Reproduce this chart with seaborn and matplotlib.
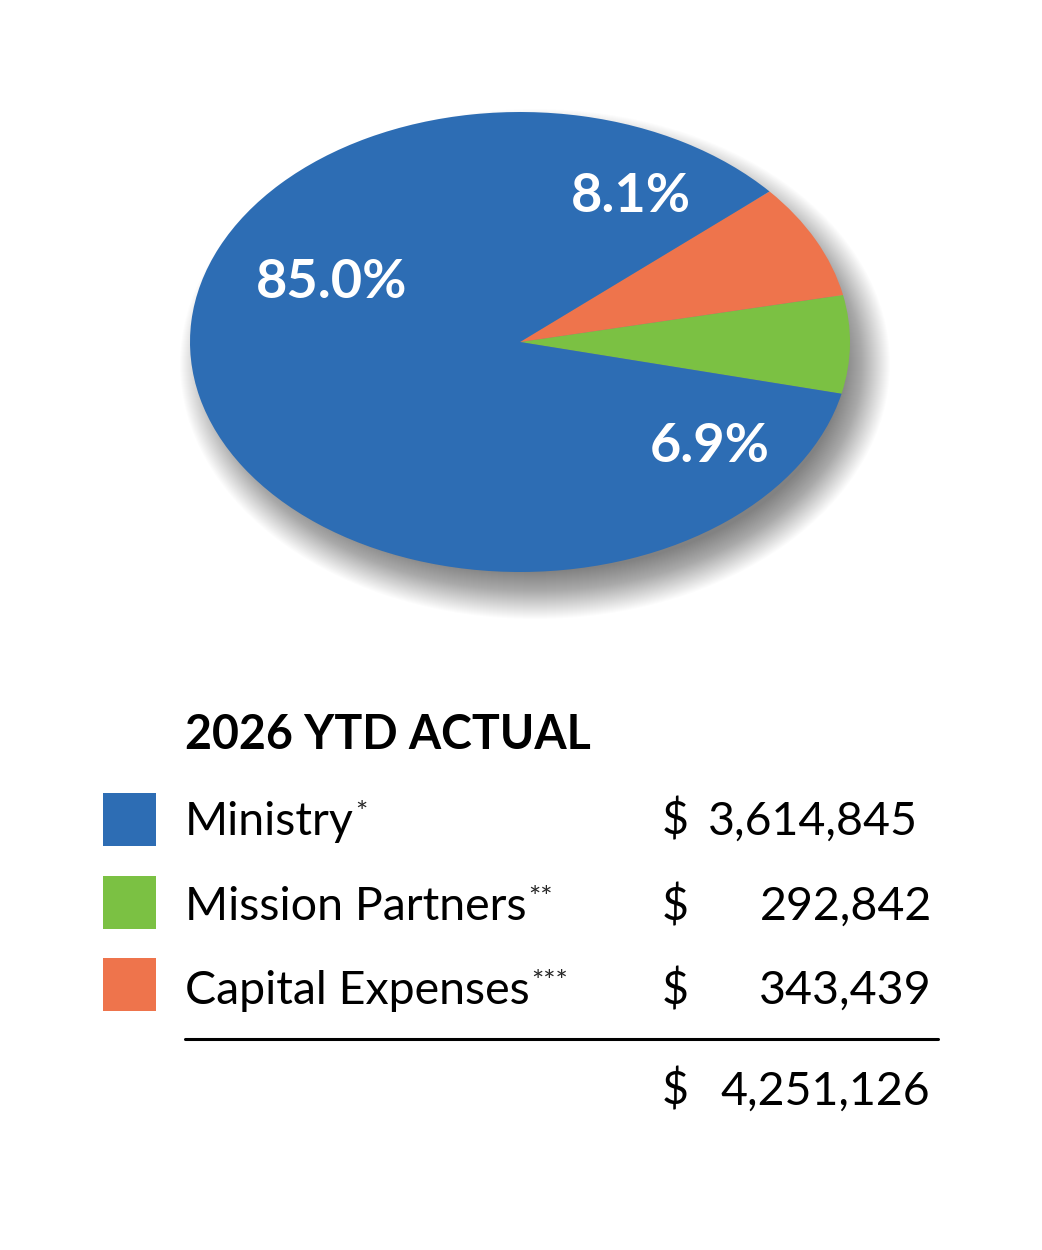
import numpy as np
import seaborn as sns
import matplotlib.pyplot as plt
from matplotlib.patches import Ellipse, Rectangle

## data ----------------------------------------------------------------------------------

categories = ['Mission Partners', 'Capital Expenses', 'Ministry']
values = [292842, 343439, 3614845]
colors = ['#7BC143', '#EE744C', '#2D6DB4']

table_order = ['Ministry', 'Mission Partners', 'Capital Expenses']
table_marks = ['*', '**', '***']
table_title = '2026 YTD ACTUAL'

## style ---------------------------------------------------------------------------------

sns.set_theme(style='white')
plt.rcParams['font.family'] = ['Lato', 'DejaVu Sans']

fig = plt.figure(figsize=(10.42, 12.5), dpi=100)

# pie axes covering the ellipse bounds
W, H = 1042, 1250
x0, x1, y0, y1 = 190, 850, 112, 572
rx, ry = (x1 - x0) / 2, (y1 - y0) / 2
ax = fig.add_axes([x0 / W, 1 - y1 / H, (x1 - x0) / W, (y1 - y0) / H])

# soft drop shadow: stack of faint ellipses, offset down-right
for d in range(-22, 26):
    ax.add_patch(Ellipse((15 / rx, -22 / ry), 2 + 2 * d / rx, 2 + 2 * d / ry,
                         facecolor='#000000', alpha=0.011, lw=0,
                         clip_on=False, zorder=0))

wedges, _ = ax.pie(values, colors=colors, startangle=-13.0, counterclock=True,
                   radius=1, wedgeprops=dict(linewidth=0))
for w in wedges:
    w.set_zorder(2)
ax.set_aspect('auto')
ax.set_xlim(-1, 1)
ax.set_ylim(-1, 1)
ax.axis('off')

# overlay in pixel coordinates for labels and the table
ov = fig.add_axes([0, 0, 1, 1], zorder=5)
ov.patch.set_alpha(0)
ov.set_xlim(0, 1042)
ov.set_ylim(1250, 0)
ov.axis('off')

# percentage labels
total = sum(values)
pct = {c: v / total * 100 for c, v in zip(categories, values)}
label_pos = {'Ministry': (332, 283), 'Capital Expenses': (631, 196), 'Mission Partners': (710, 446)}
for c, (px, py) in label_pos.items():
    ov.text(px, py, f'{pct[c]:.1f}%', color='white', fontsize=39, fontweight='bold',
            ha='center', va='center', zorder=5)

## table ---------------------------------------------------------------------------------

ov.text(185, 749, table_title, fontsize=33.5, fontweight='bold', color='black', ha='left', va='baseline')

color_of = dict(zip(categories, colors))
val_of = dict(zip(categories, values))
baselines = [835, 920, 1004]
squares_top = [793, 876, 958]
right_edges = [918, 932, 932]
for name, mark, yb, st, re in zip(table_order, table_marks, baselines, squares_top, right_edges):
    ov.add_patch(Rectangle((103, st), 53, 53, facecolor=color_of[name], lw=0))
    t = ov.text(185, yb, name, fontsize=33.5, color='black', ha='left', va='baseline')
    ov.annotate(mark, xy=(1.0, 1.0), xycoords=t, fontsize=21, ha='left', va='top',
                xytext=(1, 0), textcoords='offset points')
    ov.text(662, yb, '$', fontsize=33.5, color='black', ha='left', va='baseline')
    ov.text(re, yb, f'{val_of[name]:,}', fontsize=33.5, color='black', ha='right', va='baseline')

ov.plot([185, 938], [1039, 1039], color='black', lw=2.2)
ov.text(662, 1105, '$', fontsize=33.5, color='black', ha='left', va='baseline')
ov.text(930, 1105, f'{total:,}', fontsize=33.5, color='black', ha='right', va='baseline')

fig.savefig('out.png', dpi=100, facecolor='white')
